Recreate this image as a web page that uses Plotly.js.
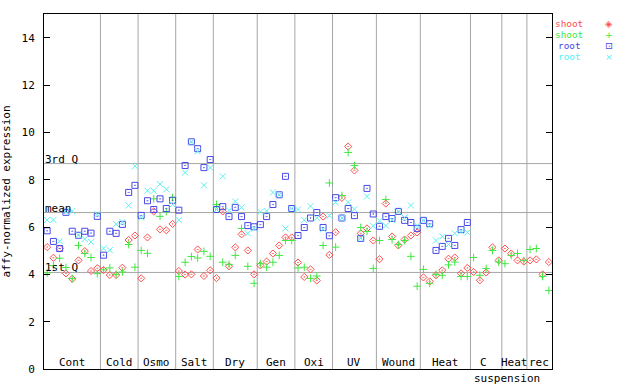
<!DOCTYPE html>
<html>
<head>
<meta charset="utf-8">
<script src="https://cdn.plot.ly/plotly-3.0.1.min.js"></script>
<style>
  html, body { margin: 0; padding: 0; background: #ffffff; }
  #chart { width: 640px; height: 384px; }
</style>
</head>
<body>
<div id="chart"></div>
<script>
// ---- categories (experiment groups) and how many samples each holds ----
const categories = ["Cont", "Cold", "Osmo", "Salt", "Dry", "Gen", "Oxi", "UV", "Wound", "Heat", "C", "Heat", "rec"];
const categoryCounts = [9, 6, 6, 6, 7, 6, 6, 7, 7, 8, 5, 4, 4];

// ---- series values, one per sample ----
const shootRed = [
  5.15, 4.70, 5.09, 4.04, 3.81, 4.59, 4.98, 4.14, 4.26,
  4.18, 3.97, 3.97, 4.28, 5.45, 5.64,
  3.83, 5.56, 6.66, 5.90, 5.86, 6.13,
  4.14, 3.99, 4.00, 5.05, 3.93, 4.17,
  3.84, 6.66, 4.34, 5.14, 5.69, 5.01, 4.00,
  4.38, 4.54, 4.88, 5.22, 5.56, 5.56,
  4.50, 3.89, 4.21, 3.74, 6.44, 4.82,
  5.78, 7.23, 9.40, 8.39, 5.73, 5.94, 5.43,
  4.64, 6.99, 5.60, 5.22, 5.47, 5.64, 5.77,
  3.87, 3.70, 3.96, 4.17, 4.66, 4.71, 4.04, 4.27,
  4.10, 3.75, 4.08, 5.14, 4.59,
  5.09, 4.88, 4.59, 4.54,
  4.59, 4.63, 4.00, 4.52
];
const shootGreen = [
  4.06, 4.37, 4.68, 4.29, 3.82, 5.22, 4.88, 4.71, 4.03,
  4.19, 4.27, 4.00, 4.10, 5.26, 4.30,
  5.01, 4.89, 7.19, 6.45, 6.65, 7.24,
  3.91, 4.51, 4.75, 4.69, 4.97, 4.76,
  6.95, 4.51, 4.42, 4.80, 5.94, 4.34, 3.62,
  4.45, 4.30, 4.51, 4.80, 5.43, 5.43,
  4.27, 4.30, 3.83, 3.93, 5.22, 7.86,
  5.15, 7.33, 9.15, 8.60, 5.98, 5.81, 4.25,
  5.43, 7.16, 5.47, 5.26, 5.43, 4.76, 3.50,
  4.21, 3.62, 4.00, 3.96, 4.40, 4.52, 3.91, 3.91,
  4.71, 3.96, 4.25, 5.01, 4.52,
  4.45, 4.80, 4.88, 4.59,
  5.05, 5.09, 3.91, 3.32
];
const rootBlue = [
  5.84, 5.39, 5.09, 6.62, 5.82, 5.65, 5.82, 5.74, 6.45,
  4.81, 5.82, 5.73, 6.11, 7.46, 7.76,
  6.49, 7.11, 6.74, 7.19, 6.78, 7.13,
  6.71, 8.60, 9.60, 9.31, 8.51, 8.85,
  6.74, 6.86, 6.44, 6.83, 6.44, 6.06, 6.01,
  6.10, 6.44, 6.95, 7.36, 8.14, 6.78,
  5.64, 5.98, 6.38, 6.61, 5.98, 5.63,
  7.24, 6.38, 6.78, 6.48, 5.52, 7.63, 6.55,
  6.03, 6.44, 6.36, 6.66, 6.28, 6.19, 5.94,
  6.28, 6.14, 5.01, 5.18, 5.52, 5.22, 5.89, 6.19,
  null, null, null, null, null,
  null, null, null, null,
  null, null, null, null
];
const rootCyan = [
  6.30, 6.30, 5.40, 6.63, 6.67, 5.66, 5.49, 5.37, 6.54,
  5.10, 5.02, 6.12, 6.21, 6.91, 8.57,
  6.40, 7.53, 7.53, 7.81, 7.59, 6.95,
  6.29, 8.30, 9.60, 9.20, 7.76, 8.51,
  6.74, 8.14, 6.70, 7.08, 6.83, 5.73, 5.93,
  6.64, 6.68, 7.46, 7.36, 5.94, 6.78,
  6.74, 6.29, 6.88, 6.38, 5.90, 6.48,
  7.04, 6.38, 7.04, 6.75, 5.52, 7.29, 6.04,
  6.26, 6.06, 6.30, 6.66, 6.40, 6.91, 6.06,
  6.28, 6.06, 5.43, 5.60, 5.26, 5.73, 5.81, 5.77,
  null, null, null, null, null,
  null, null, null, null,
  null, null, null, null
];

// ---- reference lines (quartiles / mean) ----
const refLineLabels = ["3rd Q", "mean", "1st Q"];
const refLineValues = [8.68, 6.61, 4.08];

// ---- tick labels ----
const yTickValues = [0, 2, 4, 6, 8, 10, 12, 14];
const yTickLabels = ["0", "2", "4", "6", "8", "10", "12", "14"];

// ---- legend entries ----
const seriesNames = ["shoot", "shoot", "root", "root"];

// ---------------------------------------------------------------
const MONO = "DejaVu Sans Mono, Liberation Mono, monospace";
const colors = ["#ff4d4d", "#40e840", "#4848e8", "#5cf0f0"];
const symbols = ["diamond-open-dot", "cross-thin-open", "square-open-dot", "x-thin-open"];
const sizes = [5.5, 5.5, 6, 6];
const legendGlyphs = ["\u25C8", "+", "\u22A1", "\u00D7"];

const nSamples = shootRed.length;
const sampleX = shootRed.map((_, i) => i + 1);

const allSeries = [shootRed, shootGreen, rootBlue, rootCyan];
const traces = allSeries.map((vals, k) => ({
  type: "scatter",
  mode: "markers",
  x: sampleX,
  y: vals,
  name: seriesNames[k],
  showlegend: false,
  hoverinfo: "skip",
  marker: {
    symbol: symbols[k],
    size: sizes[k],
    color: colors[k],
    line: { color: colors[k], width: 1 }
  }
}));

// category boundaries and centres
const bounds = [];
const centres = [];
let acc = 0;
categoryCounts.forEach(c => {
  centres.push(acc + (c + 1) / 2);
  acc += c;
  bounds.push(acc + 0.5);
});

const shapes = [];
bounds.slice(0, -1).forEach(b => shapes.push({
  type: "line", xref: "x", yref: "paper", x0: b, x1: b, y0: 0, y1: 1,
  line: { color: "#a6a6a6", width: 1 }, layer: "below"
}));
refLineValues.forEach(v => shapes.push({
  type: "line", xref: "paper", yref: "y", x0: 0, x1: 1, y0: v, y1: v,
  line: { color: "#a6a6a6", width: 1 }, layer: "below"
}));

const annotations = [];
categories.forEach((c, i) => annotations.push({
  text: c, xref: "x", yref: "paper", x: centres[i] - (c === "C" ? 0.4 : 0), y: 0,
  xanchor: "center", yanchor: "bottom", yshift: -2, showarrow: false,
  font: { family: MONO, size: 11, color: "#000" }
}));
// second line of the "C suspension" label
annotations.push({
  text: "suspension", xref: "x", yref: "paper", x: centres[10] + 3.3, y: 0,
  xanchor: "center", yanchor: "top", yshift: -1, showarrow: false,
  font: { family: MONO, size: 11, color: "#000" }
});
refLineLabels.forEach((t, i) => annotations.push({
  text: t, xref: "paper", yref: "y", x: 0, y: refLineValues[i],
  xanchor: "left", yanchor: "bottom", xshift: -1, yshift: -4, showarrow: false,
  font: { family: MONO, size: 11, color: "#000" }
}));
seriesNames.forEach((n, k) => {
  annotations.push({
    text: n, xref: "paper", yref: "paper", x: 1, y: 1,
    xanchor: "center", yanchor: "middle", xshift: 17, yshift: -9.5 - 11 * k,
    borderpad: 0, showarrow: false, font: { family: MONO, size: 9.4, color: colors[k] }
  });
  annotations.push({
    text: legendGlyphs[k], xref: "paper", yref: "paper", x: 1, y: 1,
    xanchor: "center", yanchor: "middle", xshift: 57, yshift: -9.5 - 11 * k,
    borderpad: 0, showarrow: false, font: { family: "DejaVu Sans", size: 9.4, color: colors[k] }
  });
});

const layout = {
  width: 640, height: 384,
  margin: { l: 44, r: 88, t: 14, b: 15, pad: 0 },
  paper_bgcolor: "#ffffff", plot_bgcolor: "#ffffff",
  showlegend: false,
  font: { family: MONO, size: 11, color: "#000" },
  xaxis: {
    range: [0.5, nSamples + 0.5], showgrid: false, zeroline: false,
    showticklabels: false, ticks: "", showline: true, mirror: true,
    linecolor: "#000", linewidth: 1, fixedrange: true
  },
  yaxis: {
    range: [0, 15], tickvals: yTickValues, ticktext: yTickLabels,
    ticks: "inside", ticklen: 6, tickcolor: "#000", tickwidth: 1,
    showline: true, mirror: "ticks", linecolor: "#000", linewidth: 1,
    showgrid: false, zeroline: false, ticklabelstandoff: 6,
    tickfont: { family: MONO, size: 11, color: "#000" },
    title: { text: "affy-normalized expression", standoff: 9,
             font: { family: MONO, size: 11, color: "#000" } },
    fixedrange: true
  },
  shapes: shapes,
  annotations: annotations
};

Plotly.newPlot("chart", traces, layout, { staticPlot: true, displayModeBar: false });
</script>
</body>
</html>
